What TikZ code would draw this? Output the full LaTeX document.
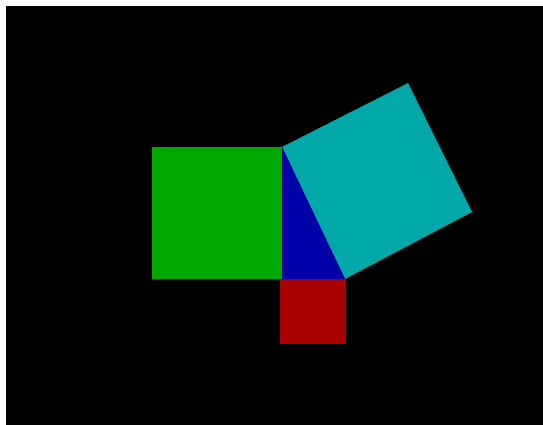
\documentclass[tikz,border=0pt]{standalone}
\usepackage{tikz}
\definecolor{egaGreen}{RGB}{0,168,0}
\definecolor{egaCyan}{RGB}{0,168,168}
\definecolor{egaBlue}{RGB}{0,0,168}
\definecolor{egaRed}{RGB}{168,0,0}
\begin{document}
\begin{tikzpicture}[
    x=1pt, y=-1pt,
    square/.style={draw=none},
]
% Background
\useasboundingbox (0,0) rectangle (543,425);
\fill[white] (0,0) rectangle (543,425);
\fill[black] (6,6) rectangle (543,425);

% Triangle corners
\coordinate (top) at (282,147);
\coordinate (rightangle) at (282,279);
\coordinate (foot) at (345,279);

% Squares on the sides
\fill[square, egaGreen] (152,147) rectangle (rightangle);
\fill[square, egaRed] (280,279) rectangle (346,344);
\coordinate (cyanA) at (472,212);
\coordinate (cyanB) at (408,83);
\fill[square, egaCyan] (top) -- (foot) -- (cyanA) -- (cyanB) -- cycle;

% Triangle
\fill[egaBlue] (top) -- (rightangle) -- (foot) -- cycle;
\end{tikzpicture}
\end{document}
